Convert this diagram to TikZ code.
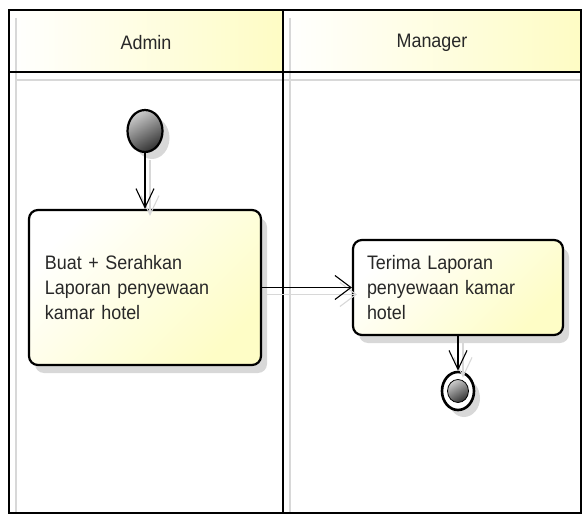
\documentclass[tikz,border=0pt]{standalone}
\usepackage{fontspec}
\setmainfont{Liberation Sans}
\newfontfamily\diagfont[FakeStretch=0.92]{Liberation Sans}
\usetikzlibrary{arrows.meta,shapes.geometric,shadows}
\definecolor{laneyellow}{RGB}{254,252,196}
\definecolor{boxyellow}{RGB}{254,253,198}
\definecolor{shadowgray}{RGB}{216,216,216}
\definecolor{inktext}{RGB}{40,40,40}
\begin{document}
\begin{tikzpicture}[x=1pt,y=-1pt,
  header/.style={left color=white,right color=laneyellow},
  laneline/.style={draw=black,line width=2.8pt},
  laneshadow/.style={draw=shadowgray,line width=2.4pt},
  lanetitle/.style={font=\diagfont\fontsize{19.5}{22}\selectfont,text=inktext},
  boxshadow/.style={drop shadow={shadow xshift=6pt,shadow yshift=-8pt,fill=shadowgray,opacity=1}},
  action/.style={draw=black,line width=2.2pt,rounded corners=9pt,
    top color=white,bottom color=boxyellow,shading angle=45,
    align=left,font=\diagfont\fontsize{19.5}{25}\selectfont,text=inktext,inner sep=0pt,boxshadow},
  initial/.style={ellipse,draw=black,line width=2.2pt,inner sep=0pt,
    minimum width=35pt,minimum height=42pt,
    top color=gray!40,bottom color=black!80,shading angle=30,
    drop shadow={shadow xshift=7pt,shadow yshift=-7pt,fill=shadowgray,opacity=1}},
  final/.style={ellipse,draw=black,line width=2.6pt,fill=white,inner sep=0pt,
    minimum width=32pt,minimum height=38pt,
    drop shadow={shadow xshift=6pt,shadow yshift=-7pt,fill=shadowgray,opacity=1}},
  finalcore/.style={ellipse,draw=black,line width=0.8pt,inner sep=0pt,
    minimum width=21pt,minimum height=23pt,
    top color=gray!40,bottom color=black!80,shading angle=30},
  flowv/.style={draw=black,line width=1.1pt,-{Straight Barb[length=19pt,width=18pt,line width=1.1pt]}},
  flowh/.style={draw=black,line width=1.1pt,-{Straight Barb[length=16pt,width=24pt,line width=1.1pt]}},
  flowvshadow/.style={draw=shadowgray,line width=1.1pt,-{Straight Barb[length=19pt,width=18pt,line width=1.1pt]}},
  flowhshadow/.style={draw=shadowgray,line width=1.1pt,-{Straight Barb[length=16pt,width=24pt,line width=1.1pt]}}
]
\useasboundingbox (0,0) rectangle (584,516);

% swimlane headers
\fill[header] (9,10) rectangle (283,72);
\fill[header] (283,10) rectangle (581,72);

% swimlane shadows
\draw[laneshadow] (16,18) -- (16,513);
\draw[laneshadow] (290,18) -- (290,513);
\draw[laneshadow] (16,80) -- (581,80);

% swimlane frame
\draw[laneline] (9,10) rectangle (581,513);
\draw[laneline] (283,10) -- (283,513);
\draw[laneline] (9,72) -- (581,72);

\node[lanetitle] (tadmin) at (146,43) {Admin};
\node[lanetitle] (tmanager) at (432,43) {Manager};

% activity nodes
\node[initial] (start) at (145,131) {};
\node[action,minimum width=232pt,minimum height=155pt,text width=200pt] (buat) at (145,287.5)
  {Buat + Serahkan\\Laporan penyewaan\\kamar hotel};
\node[action,minimum width=210pt,minimum height=95pt,text width=182pt] (terima) at (458,287.5)
  {Terima Laporan\\penyewaan kamar\\hotel};
\node[final] (end) at (458,391) {};
\node[finalcore] (endcore) at (458,391) {};

% connector shadows
\begin{scope}[transform canvas={shift={(5pt,-7pt)}}]
  \draw[flowvshadow] (start) -- (buat);
  \draw[flowhshadow] (buat) -- (terima);
  \draw[flowvshadow] (terima) -- (end);
\end{scope}

% connectors
\draw[flowv] (start) -- (buat);
\draw[flowh] (buat) -- (terima);
\draw[flowv] (terima) -- (end);
\end{tikzpicture}
\end{document}
